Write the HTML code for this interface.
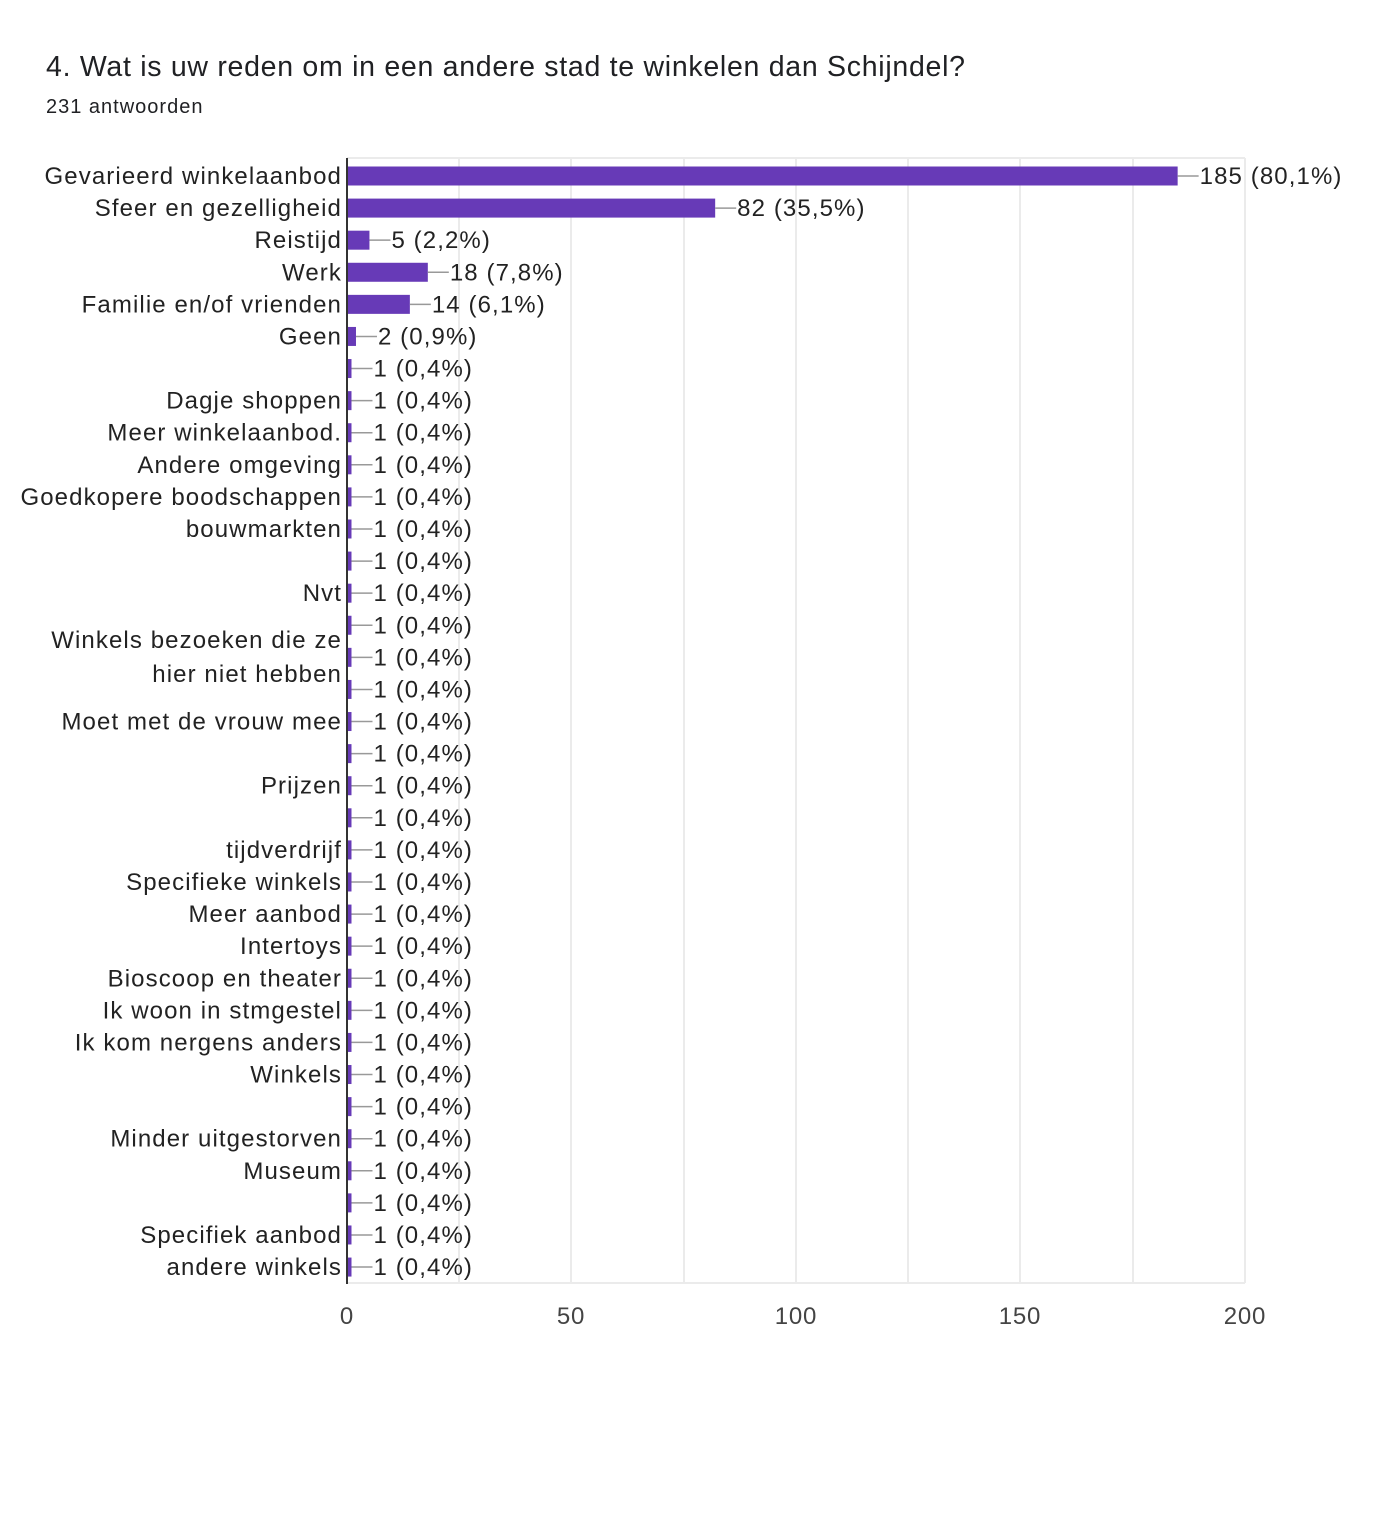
<!DOCTYPE html>
<html><head><meta charset="utf-8"><style>
html,body{margin:0;padding:0;background:#fff;width:1384px;height:1528px;overflow:hidden}
svg{display:block;font-family:"Liberation Sans",Arial,sans-serif}
</style></head><body>
<svg width="1384" height="1528" viewBox="0 0 1384 1528">
<text x="46" y="76" font-size="28.5" fill="#202124" textLength="919" lengthAdjust="spacing">4. Wat is uw reden om in een andere stad te winkelen dan Schijndel?</text>
<text x="46" y="113" font-size="20" fill="#202124" letter-spacing="1">231 antwoorden</text>
<g stroke="#ebebeb" stroke-width="2">
<line x1="347" y1="158" x2="1245" y2="158"/>
<line x1="347" y1="1283" x2="1245" y2="1283"/>
<line x1="459" y1="158" x2="459" y2="1283"/>
<line x1="571" y1="158" x2="571" y2="1283"/>
<line x1="684" y1="158" x2="684" y2="1283"/>
<line x1="796" y1="158" x2="796" y2="1283"/>
<line x1="908" y1="158" x2="908" y2="1283"/>
<line x1="1020" y1="158" x2="1020" y2="1283"/>
<line x1="1133" y1="158" x2="1133" y2="1283"/>
<line x1="1245" y1="158" x2="1245" y2="1283"/>
</g>
<g font-size="24" fill="#444" text-anchor="middle" letter-spacing="0.8">
<text x="347" y="1324">0</text><text x="571" y="1324">50</text><text x="796" y="1324">100</text><text x="1020" y="1324">150</text><text x="1245" y="1324">200</text>
</g>
<g id="rows"></g>
<line x1="347" y1="158" x2="347" y2="1284" stroke="#333" stroke-width="2"/>
<script>
var labels=["Gevarieerd winkelaanbod","Sfeer en gezelligheid","Reistijd","Werk","Familie en/of vrienden","Geen","","Dagje shoppen","Meer winkelaanbod.","Andere omgeving","Goedkopere boodschappen","bouwmarkten","","Nvt","","","","Moet met de vrouw mee","","Prijzen","","tijdverdrijf","Specifieke winkels","Meer aanbod","Intertoys","Bioscoop en theater","Ik woon in stmgestel","Ik kom nergens anders","Winkels","","Minder uitgestorven","Museum","","Specifiek aanbod","andere winkels"];
var vals=[185,82,5,18,14,2];var pct=["80,1","35,5","2,2","7,8","6,1","0,9"];
var ns="http://www.w3.org/2000/svg",g=document.getElementById("rows");
function el(t,a,txt){var e=document.createElementNS(ns,t);for(var k in a)e.setAttribute(k,a[k]);if(txt!=null)e.textContent=txt;g.appendChild(e);return e;}
var F={"font-size":24,fill:"#222","letter-spacing":1.1};
function T(x,y,s,anchor){var a={x:x,y:y};for(var k in F)a[k]=F[k];if(anchor)a["text-anchor"]=anchor;el("text",a,s);}
for(var i=0;i<35;i++){var cy=176+32.09*i;var v=i<6?vals[i]:1;var p=i<6?pct[i]:"0,4";var w=v*4.49;
el("rect",{x:347,y:cy-9.5,width:w,height:19,fill:"#673ab7"});
el("line",{x1:347+w,y1:cy,x2:347+w+21,y2:cy,stroke:"#999","stroke-width":1.5});
T(347+w+22,cy+8,v+" ("+p+"%)");
if(labels[i])T(342,cy+8,labels[i],"end");}
T(342,648,"Winkels bezoeken die ze","end");
T(342,682,"hier niet hebben","end");
</script>
</svg>
</body></html>
